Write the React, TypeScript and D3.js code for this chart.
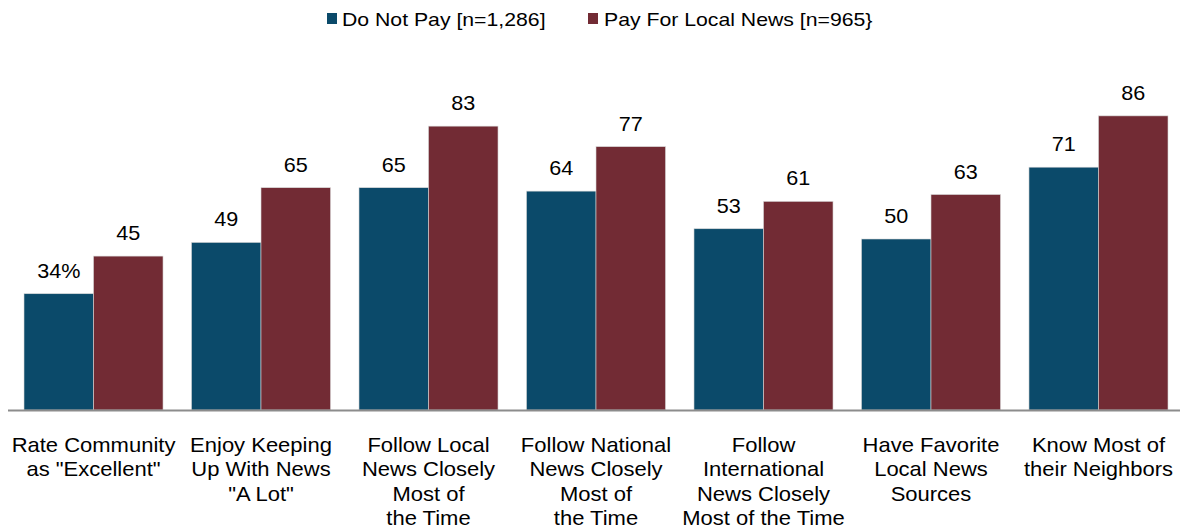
import React from 'react';
import * as d3 from 'd3';

const categories = [
  ['Rate Community', 'as "Excellent"'],
  ['Enjoy Keeping', 'Up With News', '"A Lot"'],
  ['Follow Local', 'News Closely', 'Most of', 'the Time'],
  ['Follow National', 'News Closely', 'Most of', 'the Time'],
  ['Follow', 'International', 'News Closely', 'Most of the Time'],
  ['Have Favorite', 'Local News', 'Sources'],
  ['Know Most of', 'their Neighbors'],
];
const doNotPay = [34, 49, 65, 64, 53, 50, 71];
const payLocal = [45, 65, 83, 77, 61, 63, 86];
const seriesNames = ['Do Not Pay [n=1,286]', 'Pay For Local News [n=965}'];
const colors = ['#0b4a6a', '#722b34'];

const W = 1180;
const H = 529;
const font = 'Arial, "Liberation Sans", sans-serif';

// the original text is a little wider than Arial, so stretch it sideways
const Stretched: React.FC<{ x: number; y: number; sx: number; size: number; anchor?: string; children: React.ReactNode }> =
  ({ x, y, sx, size, anchor = 'middle', children }) => (
    <text transform={`translate(${x},${y}) scale(${sx},1)`} textAnchor={anchor} fontSize={size} fill="#000">
      {children}
    </text>
  );

const App: React.FC = () => {
  const x0 = d3.scaleBand<number>()
    .domain(d3.range(categories.length))
    .range([24, 1168])
    .paddingInner(0.17)
    .paddingOuter(0);
  const x1 = d3.scaleBand<number>()
    .domain([0, 1])
    .range([0, x0.bandwidth()]);
  const y = d3.scaleLinear().domain([0, 100]).range([410, 68]);

  const series = [doNotPay, payLocal];

  return (
    <svg width={W} height={H} style={{ position: 'absolute', left: 0, top: 0 }} fontFamily={font}>
      {/* legend */}
      <g>
        <rect x={327} y={13} width={10} height={11} fill={colors[0]} />
        <Stretched x={342} y={26} sx={1.18} size={18} anchor="start">{seriesNames[0]}</Stretched>
        <rect x={588} y={13} width={10} height={11} fill={colors[1]} />
        <Stretched x={604} y={26} sx={1.18} size={18} anchor="start">{seriesNames[1]}</Stretched>
      </g>

      {categories.map((_, i) => (
        <g key={i} transform={`translate(${x0(i)},0)`}>
          {series.map((s, j) => (
            <g key={j}>
              <rect
                x={x1(j)}
                y={y(s[i])}
                width={x1.bandwidth()}
                height={y(0) - y(s[i])}
                fill={colors[j]}
                stroke="#d8d8d8"
                strokeWidth={0.6}
              />
              <Stretched
                x={(x1(j) ?? 0) + x1.bandwidth() / 2}
                y={y(s[i]) - 16}
                sx={1.08}
                size={20}
              >
                {i === 0 && j === 0 ? `${s[i]}%` : s[i]}
              </Stretched>
            </g>
          ))}
        </g>
      ))}

      <line x1={8} x2={1180} y1={410.5} y2={410.5} stroke="#8c8c8c" strokeWidth={2} />

      {categories.map((lines, i) => (
        <g key={i}>
          {lines.map((l, k) => (
            <Stretched key={k} x={(x0(i) ?? 0) + x0.bandwidth() / 2} y={451.5 + k * 24.5} sx={1.1} size={20}>
              {l}
            </Stretched>
          ))}
        </g>
      ))}
    </svg>
  );
};

export default App;
